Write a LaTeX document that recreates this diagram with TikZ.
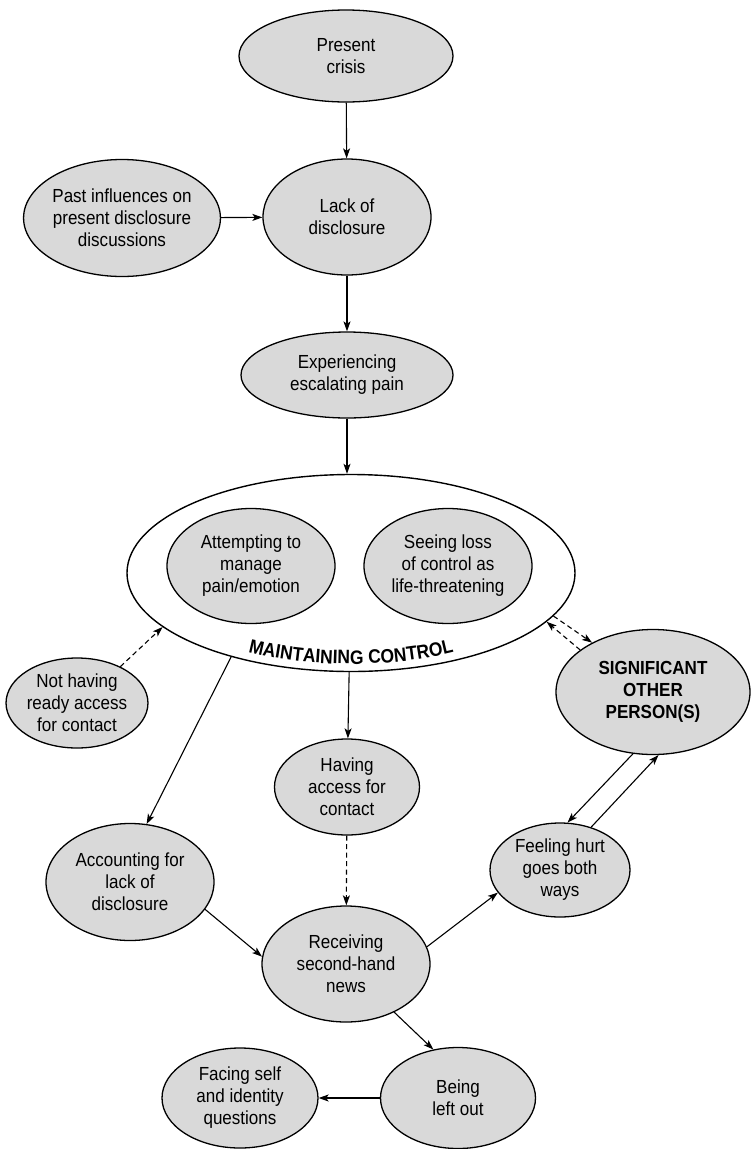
\documentclass[tikz,border=0pt]{standalone}
\usepackage{fontspec}
\setmainfont{Liberation Sans}[FakeStretch=0.9]
\usetikzlibrary{shapes.geometric,arrows.meta,decorations.text}
\begin{document}
\begin{tikzpicture}[x=1bp,y=-1bp,
  every node/.style={font=\fontsize{19}{22}\selectfont},
  bub/.style={ellipse,draw,line width=1.3bp,fill=black!15,inner sep=0pt,align=center},
  conn/.style={line width=1.1bp,-{Stealth[length=10bp,width=7bp,inset=2.5bp]}},
  dconn/.style={conn,dash pattern=on 5bp off 3.5bp}]
\useasboundingbox (0,0) rectangle (751,1149);
% nodes
\node[bub,minimum width=214bp,minimum height=92bp] (present) at (346,56) {Present\\crisis};
\node[bub,minimum width=168bp,minimum height=117bp] (past) at (122,218) {Past influences on\\present disclosure\\discussions};
\node[bub,minimum width=168bp,minimum height=116bp] (lack) at (347,217) {Lack of\\disclosure};
\node[bub,minimum width=212bp,minimum height=86bp] (exp) at (347,375) {Experiencing\\escalating pain};
\node[ellipse,draw,line width=1.4bp,fill=white,inner sep=0pt,minimum width=448bp,minimum height=197bp] (big) at (351,573) {};
\node[bub,minimum width=168bp,minimum height=115bp] (attempt) at (251,566) {Attempting to\\manage\\pain/emotion};
\node[bub,minimum width=168bp,minimum height=115bp] (seeing) at (448,566) {Seeing loss\\of control as\\life-threatening};
\path[decorate,decoration={text along path,text align=center,
  text={|\bfseries\fontsize{19.5}{21}\selectfont|MAINTAINING CONTROL}}]
  (351,573) ++(121:207 and 91) arc[start angle=121,end angle=59,x radius=207,y radius=91];
\node[bub,minimum width=140bp,minimum height=90bp] (notacc) at (77,703) {Not having\\ready access\\for contact};
\node[bub,minimum width=194bp,minimum height=125bp,font=\bfseries\fontsize{19}{22}\selectfont] (sig) at (653,692) {SIGNIFICANT\\OTHER\\PERSON(S)};
\node[bub,minimum width=145bp,minimum height=96bp] (having) at (347,787) {Having\\access for\\contact};
\node[bub,minimum width=168bp,minimum height=117bp] (acc) at (130,882) {Accounting for\\lack of\\disclosure};
\node[bub,minimum width=140bp,minimum height=94bp] (feel) at (560,870) {Feeling hurt\\goes both\\ways};
\node[bub,minimum width=168bp,minimum height=116bp] (rec) at (346,964) {Receiving\\second-hand\\news};
\node[bub,minimum width=155bp,minimum height=101bp] (being) at (458,1098) {Being\\left out};
\node[bub,minimum width=156bp,minimum height=100bp] (facing) at (240,1098) {Facing self\\and identity\\questions};
% connectors
\draw[conn] (present) -- (lack);
\draw[conn] (past) -- (lack);
\draw[conn] (lack) -- (exp);
\draw[conn] (exp) -- (exp |- big.north);
\draw[dconn] (notacc.40) -- (big.196);
\draw[dconn] (big.-12) -- (sig.141);
\draw[dconn] (sig.150) -- (big.-14);
\draw[conn] (big.215) -- (acc.74);
\draw[conn] (big) -- (having);
\draw[dconn] (having) -- (rec);
\draw[conn] (acc.-20) -- (rec.175);
\draw[conn] (rec.12) -- (feel.200);
\draw[conn] (sig.252) -- (feel.81);
\draw[conn] (feel.54) -- (sig.275);
\draw[conn] (rec.-45) -- (being.117);
\draw[conn] (being) -- (facing);
\end{tikzpicture}
\end{document}
